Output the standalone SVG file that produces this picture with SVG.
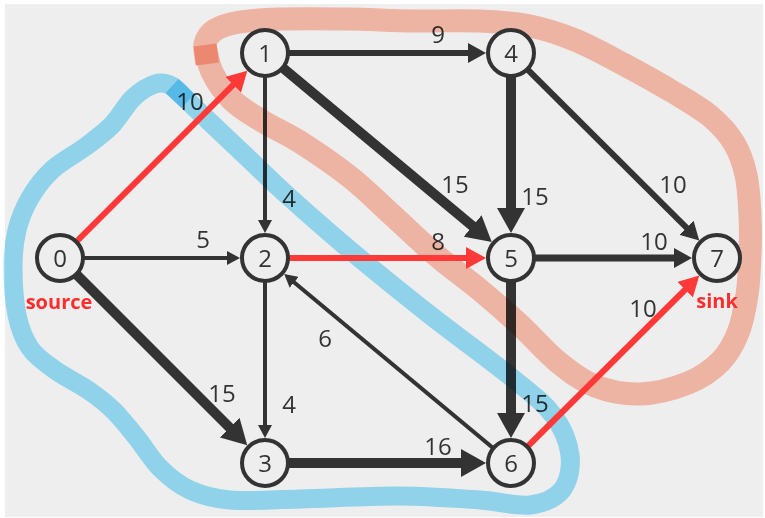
<svg xmlns="http://www.w3.org/2000/svg" width="765" height="518" viewBox="0 0 765 518">
  <style>
    .edge { stroke: #333333; fill: none; stroke-linecap: butt; }
    .thin { stroke-width: 4; marker-end: url(#arrow-thin); }
    .mid { stroke-width: 6; marker-end: url(#arrow-mid); }
    .thick { stroke-width: 10; marker-end: url(#arrow-thick); }
    .flow { stroke: #ff3838; stroke-width: 6; fill: none; marker-end: url(#arrow-red); }
    .cap { font-family: "Open Sans", "Noto Sans", sans-serif; font-size: 24px; fill: #333333; text-anchor: middle; }
    .node circle { fill: #eeeeee; stroke: #333333; stroke-width: 4; }
    .node text { font-family: "Open Sans", "Noto Sans", sans-serif; font-size: 24px; fill: #333333; text-anchor: middle; }
    .role { font-family: "Open Sans", "Noto Sans", sans-serif; font-size: 20px; font-weight: bold; fill: #ff2e2e; text-anchor: middle; }
    .cut { fill: none; mix-blend-mode: multiply; stroke-linecap: butt; stroke-linejoin: round; }
    .cut-s { stroke: #9ae1fb; stroke-width: 19; }
    .cut-t { stroke: #fec0af; stroke-width: 23; }
  </style>
  <defs>
    <marker id="arrow-thin" markerUnits="userSpaceOnUse" viewBox="0 0 13 14" markerWidth="13" markerHeight="14" refX="1" refY="7" orient="auto">
      <path d="M0,0 L13,7 L0,14 z" fill="#333333"/>
    </marker>
    <marker id="arrow-mid" markerUnits="userSpaceOnUse" viewBox="0 0 18 20" markerWidth="18" markerHeight="20" refX="1" refY="10" orient="auto">
      <path d="M0,0 L18,10 L0,20 z" fill="#333333"/>
    </marker>
    <marker id="arrow-thick" markerUnits="userSpaceOnUse" viewBox="0 0 25 28" markerWidth="25" markerHeight="28" refX="2" refY="14" orient="auto">
      <path d="M0,0 L25,14 L0,28 z" fill="#333333"/>
    </marker>
    <marker id="arrow-red" markerUnits="userSpaceOnUse" viewBox="0 0 20 22" markerWidth="20" markerHeight="22" refX="1" refY="11" orient="auto">
      <path d="M0,0 L20,11 L0,22 z" fill="#ff3838"/>
    </marker>
  </defs>

  <!-- canvas -->
  <rect x="0" y="0" width="765" height="518" fill="#ffffff"/>
  <rect x="5" y="4" width="758" height="513" fill="#eeeeee"/>

  <!-- capacity edges -->
  <g id="connectors">
    <line class="edge thin" x1="60" y1="258" x2="228" y2="258"/>
    <line class="edge thick" x1="60" y1="258" x2="231" y2="429"/>
    <line class="edge thin" x1="265" y1="53" x2="265" y2="221"/>
    <line class="edge mid" x1="265" y1="53" x2="469" y2="53"/>
    <line class="edge thick" x1="265" y1="53" x2="474.1" y2="227.3"/>
    <line class="edge thin" x1="265" y1="258" x2="265" y2="426"/>
    <line class="edge thin" x1="511" y1="463" x2="293.4" y2="281.7"/>
    <line class="edge thick" x1="265" y1="463" x2="463" y2="463"/>
    <line class="edge thick" x1="511" y1="53" x2="511" y2="210"/>
    <line class="edge mid" x1="511" y1="53" x2="687.2" y2="228.4"/>
    <line class="edge mid" style="stroke-width:7" x1="511" y1="258" x2="675" y2="258"/>
    <line class="edge thick" x1="511" y1="258" x2="511" y2="415"/>
  </g>

  <!-- capacities -->
  <g id="edge-labels">
    <text class="cap" x="190" y="110">10</text>
    <text class="cap" x="203" y="248">5</text>
    <text class="cap" x="222" y="402">15</text>
    <text class="cap" x="289" y="207">4</text>
    <text class="cap" x="438" y="43">9</text>
    <text class="cap" x="455" y="193">15</text>
    <text class="cap" x="438" y="250">8</text>
    <text class="cap" x="289" y="413">4</text>
    <text class="cap" x="325" y="347">6</text>
    <text class="cap" x="438" y="455">16</text>
    <text class="cap" x="535" y="205">15</text>
    <text class="cap" x="673" y="193">10</text>
    <text class="cap" x="654" y="250">10</text>
    <text class="cap" x="535" y="412">15</text>
    <text class="cap" x="643" y="317">10</text>
  </g>

  <!-- hand-drawn cut: source side (blue) and sink side (salmon) -->
  <g id="cut-source">
    <path class="cut cut-s" d="M172,86 C185.7,99 200,112.7 213,125 S237.5,148.2 250,160 S270.2,180 288,196 S333.3,236.2 357,256 S404.3,294.8 430,315 S490.5,360.3 511,377 S543.2,402 553,415 S568.5,442.5 570,455 S568.7,481.7 562,490 S543.7,503.3 530,505 S501.7,501.5 480,500 S430,496.2 400,496 S328.3,498.3 300,499 S248.3,501.5 230,500 S201.7,495.3 190,490 S168.8,476.7 160,468 S144.8,447.7 137,438 S121.2,418 113,410 S97.7,396.7 88,390 S64.7,377 55,370 S36.3,357.2 30,348 S19.8,328.5 17,315 S13,281.2 13,267 S14.2,241.5 17,230 S24.2,208 30,198 S42.8,178.5 52,170 S75,154.5 85,147 S104,133.2 112,125 S125.8,104.8 133,98 S148.5,86 155,84 S166.5,83.2 172,86 S182.7,96 188,101"/>
    <path class="cut cut-s" d="M172,86 L188,101"/>
  </g>
  <g id="cut-sink">
    <path class="cut cut-t" d="M205,45 C207.3,54 207.5,62.8 212,72 S223.7,91.8 232,100 S250.7,114 262,121 S285.3,132.7 300,142 S335,165.2 350,177 S375.5,199.8 390,213 S422,243.2 437,256 S466.2,278.5 480,290 S507,313 520,325 S545.5,351.8 558,362 S581.3,380.7 595,386 S624.5,394.5 640,394 S674.7,388.3 688,383 S711.7,370.3 720,362 S733.5,344.2 738,333 S745,308 747,295 S749.5,268.3 750,255 S750.7,228.3 750,215 S748.7,187 746,175 S740,152.8 734,143 S720.2,124.5 710,116 S687.5,100.7 673,92 S639.3,72.7 623,64 S590.5,46.3 575,40 S545.8,29.2 530,26 S499.5,21.8 480,21 S435.2,21.3 413,21 S369.2,19.3 347,19 S297.8,18.5 280,19 S250.8,20.2 240,22 S220.8,26.3 215,30 S206.3,38.3 205,44 S206.3,57.3 207,64"/>
    <path class="cut cut-t" d="M205,45 L207.5,64"/>
  </g>

  <!-- augmenting path -->
  <g id="connectors-flow">
    <line class="flow" x1="60" y1="258" x2="233.9" y2="84.1"/>
    <line class="flow" x1="265" y1="258" x2="467" y2="258"/>
    <line class="flow" x1="511" y1="463" x2="685.8" y2="289"/>
  </g>

  <!-- vertices -->
  <g id="node-0" class="node"><circle cx="60" cy="258" r="23"/><text x="60" y="266.5">0</text></g>
  <g id="node-1" class="node"><circle cx="265" cy="53" r="23"/><text x="265" y="61.5">1</text></g>
  <g id="node-2" class="node"><circle cx="265" cy="258" r="23"/><text x="265" y="266.5">2</text></g>
  <g id="node-3" class="node"><circle cx="265" cy="463" r="23"/><text x="265" y="471.5">3</text></g>
  <g id="node-4" class="node"><circle cx="511" cy="53" r="23"/><text x="511" y="61.5">4</text></g>
  <g id="node-5" class="node"><circle cx="511" cy="258" r="23"/><text x="511" y="266.5">5</text></g>
  <g id="node-6" class="node"><circle cx="511" cy="463" r="23"/><text x="511" y="471.5">6</text></g>
  <g id="node-7" class="node"><circle cx="717" cy="258" r="23"/><text x="717" y="266.5">7</text></g>

  <text class="role" x="59" y="309">source</text>
  <text class="role" x="717" y="308">sink</text>
</svg>
